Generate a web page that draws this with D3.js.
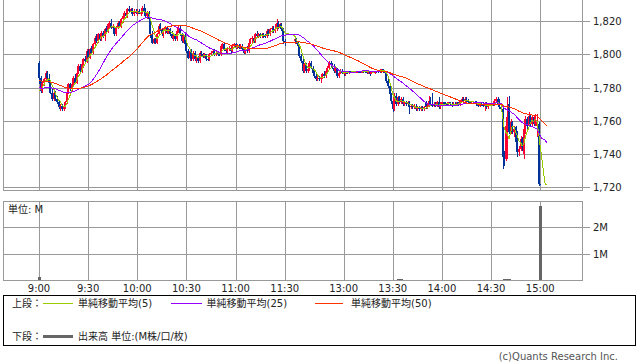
<!DOCTYPE html>
<html>
<head>
<meta charset="utf-8">
<script src="https://cdn.jsdelivr.net/npm/d3@7/dist/d3.min.js"></script>
<style>
body { margin: 0; background: #fff; }
#chart { display: block; font-family: "DejaVu Sans", "Noto Sans CJK JP", sans-serif; font-size: 10px; }
</style>
</head>
<body>
<svg id="chart" width="638" height="362"></svg>
<script>
// previous session closes, only used to seed the moving averages
var prevCloses = [
	1791,1791,1790,1790,1790,1789,1789,1789,1789,1788,
	1788,1788,1788,1788,1788,1788,1788,1788,1788,1788,
	1788,1787,1787,1787,1787,1786,1785,1784,1783,1782,
	1782,1781,1781,1780,1780,1780,1779,1779,1779,1778,
	1778,1778,1777,1778,1778,1777,1776,1777,1776
];

// 1-minute bars: morning 9:00-11:30 (151 bars), afternoon 12:30-15:04 (155 bars)
var opens = [
	1795,1786,1778,1783,1785,1789,1786,1783,1777,1773, 1777,1773,1771,1768,1769,1767,1768,1771,1777,1782,
	1779,1782,1786,1783,1789,1793,1790,1794,1797,1796, 1802,1798,1803,1801,1806,1810,1808,1812,1809,1813,
	1811,1815,1814,1818,1819,1816,1817,1812,1816,1819, 1817,1821,1823,1825,1823,1827,1826,1827,1824,1826,
	1825,1826,1824,1825,1828,1826,1823,1825,1821,1812, 1807,1809,1807,1812,1817,1815,1812,1814,1816,1813,
	1815,1812,1810,1811,1809,1814,1816,1812,1808,1811, 1806,1802,1798,1802,1797,1801,1797,1798,1796,1801,
	1800,1799,1800,1797,1797,1800,1801,1802,1800,1801, 1800,1800,1805,1806,1803,1802,1803,1804,1802,1805,
	1806,1804,1805,1804,1805,1803,1801,1803,1802,1807, 1809,1810,1808,1812,1811,1812,1811,1812,1811,1811,
	1814,1812,1815,1816,1814,1815,1819,1816,1818,1815, 1808,
	1808,1809,1807,1805,1799,1796,1790,1794,1790,1791, 1795,1792,1789,1787,1785,1786,1785,1786,1788,1787,
	1790,1792,1795,1794,1792,1790,1792,1787,1789,1790, 1789,1788,1789,1789,1790,1789,1790,1790,1789,1790,
	1790,1789,1790,1790,1790,1789,1790,1788,1790,1789, 1790,1790,1790,1790,1791,1790,1789,1784,1781,1776,
	1772,1767,1775,1770,1774,1771,1773,1770,1771,1770, 1771,1768,1769,1768,1769,1767,1768,1767,1768,1767,
	1771,1768,1769,1772,1770,1769,1770,1769,1771,1768, 1770,1771,1770,1770,1770,1771,1770,1769,1770,1770,
	1771,1770,1772,1773,1772,1773,1772,1771,1771,1772, 1771,1771,1770,1769,1770,1770,1769,1770,1768,1769,
	1770,1770,1770,1772,1773,1772,1768,1767,1738,1737, 1744,1770,1753,1759,1753,1756,1747,1741,1743,1749,
	1740,1754,1761,1757,1763,1758,1762,1758,1757,1758, 1722,1722,1722,1722,1722
];
var highs = [
	1796,1787,1784,1786,1790,1790,1788,1784,1779,1778, 1778,1775,1772,1770,1770,1769,1772,1778,1783,1783,
	1783,1787,1788,1790,1794,1794,1795,1798,1799,1803, 1803,1804,1805,1807,1811,1812,1813,1813,1814,1814,
	1816,1817,1819,1820,1821,1818,1817,1817,1820,1820, 1822,1824,1826,1827,1828,1829,1828,1828,1827,1827,
	1827,1827,1826,1829,1830,1828,1826,1826,1822,1814, 1810,1810,1813,1818,1819,1816,1815,1817,1817,1816,
	1816,1814,1812,1812,1815,1817,1817,1813,1812,1812, 1807,1803,1803,1803,1802,1802,1799,1799,1802,1802,
	1801,1801,1800,1798,1801,1802,1803,1803,1802,1802, 1801,1806,1807,1807,1804,1804,1805,1805,1806,1807,
	1807,1806,1806,1806,1806,1804,1804,1805,1808,1810, 1811,1811,1813,1814,1813,1813,1813,1813,1812,1815,
	1815,1816,1817,1817,1818,1821,1820,1819,1819,1816, 1809,
	1810,1810,1808,1806,1800,1797,1795,1795,1793,1796, 1796,1793,1791,1789,1787,1787,1787,1789,1790,1791,
	1793,1796,1796,1795,1794,1793,1792,1790,1791,1791, 1790,1790,1790,1790,1790,1790,1790,1790,1790,1790,
	1790,1790,1790,1790,1790,1790,1790,1790,1790,1790, 1790,1790,1791,1791,1791,1790,1789,1785,1782,1777,
	1775,1777,1777,1775,1775,1774,1774,1772,1772,1772, 1772,1770,1770,1770,1770,1769,1769,1769,1769,1769,
	1772,1770,1775,1774,1777,1771,1771,1772,1774,1771, 1771,1771,1771,1771,1771,1771,1771,1771,1771,1771,
	1771,1772,1774,1774,1774,1774,1773,1772,1772,1772, 1772,1772,1771,1771,1771,1771,1771,1771,1770,1770,
	1770,1771,1773,1774,1774,1773,1769,1768,1742,1759, 1774,1775,1761,1760,1757,1757,1754,1745,1751,1750,
	1757,1763,1762,1765,1764,1763,1763,1764,1764,1759, 1722,1722,1722,1722,1722
];
var lows = [
	1782,1777,1777,1781,1784,1785,1782,1776,1772,1772, 1772,1770,1767,1766,1766,1766,1767,1770,1776,1778,
	1778,1781,1782,1782,1788,1789,1789,1792,1795,1795, 1797,1797,1800,1800,1805,1807,1807,1808,1808,1810,
	1808,1812,1813,1816,1815,1814,1811,1811,1815,1816, 1816,1819,1821,1822,1822,1825,1824,1823,1823,1824,
	1823,1824,1823,1824,1825,1822,1821,1820,1810,1806, 1806,1806,1806,1811,1814,1811,1810,1812,1812,1812,
	1811,1809,1808,1808,1808,1813,1811,1807,1807,1805, 1801,1797,1796,1796,1796,1796,1795,1795,1795,1799,
	1798,1798,1796,1796,1796,1799,1800,1799,1799,1799, 1799,1799,1803,1802,1801,1801,1802,1801,1801,1804,
	1803,1803,1803,1803,1802,1800,1800,1801,1801,1806, 1806,1807,1807,1810,1810,1810,1810,1810,1810,1810,
	1811,1811,1813,1813,1813,1814,1815,1815,1814,1806, 1805,
	1806,1806,1804,1798,1795,1789,1789,1789,1789,1790, 1791,1788,1786,1784,1784,1784,1783,1785,1786,1786,
	1789,1791,1793,1791,1789,1789,1786,1786,1788,1788, 1787,1787,1788,1788,1789,1789,1789,1789,1789,1789,
	1789,1789,1789,1789,1788,1788,1787,1788,1789,1788, 1789,1789,1789,1789,1789,1788,1783,1780,1775,1770,
	1765,1766,1769,1769,1770,1770,1769,1769,1769,1769, 1764,1767,1767,1767,1766,1766,1766,1766,1766,1766,
	1767,1767,1768,1769,1768,1768,1768,1768,1767,1767, 1769,1769,1769,1769,1769,1769,1768,1769,1769,1769,
	1769,1769,1771,1771,1771,1771,1770,1770,1770,1770, 1770,1769,1768,1768,1769,1768,1766,1767,1767,1769,
	1769,1769,1769,1771,1769,1767,1766,1731,1733,1736, 1737,1752,1752,1752,1750,1746,1738,1739,1742,1742,
	1737,1752,1755,1756,1757,1757,1757,1757,1750,1721, 1722,1722,1722,1722,1722
];
var closes = [
	1786,1778,1783,1785,1789,1786,1783,1777,1773,1777, 1773,1771,1768,1769,1767,1768,1771,1777,1782,1779,
	1782,1786,1783,1789,1793,1790,1794,1797,1796,1802, 1798,1803,1801,1806,1810,1808,1812,1809,1813,1811,
	1815,1814,1818,1819,1816,1817,1812,1816,1819,1817, 1821,1823,1825,1823,1827,1826,1827,1824,1826,1825,
	1826,1824,1825,1828,1826,1823,1825,1821,1812,1807, 1809,1807,1812,1817,1815,1812,1814,1816,1813,1815,
	1812,1810,1811,1809,1814,1816,1812,1808,1811,1806, 1802,1798,1802,1797,1801,1797,1798,1796,1801,1800,
	1799,1800,1797,1797,1800,1801,1802,1800,1801,1800, 1800,1805,1806,1803,1802,1803,1804,1802,1805,1806,
	1804,1805,1804,1805,1803,1801,1803,1802,1807,1809, 1810,1808,1812,1811,1812,1811,1812,1811,1811,1814,
	1812,1815,1816,1814,1815,1819,1816,1818,1815,1808, 1807,
	1809,1807,1805,1799,1796,1790,1794,1790,1791,1795, 1792,1789,1787,1785,1786,1785,1786,1788,1787,1790,
	1792,1795,1794,1792,1790,1792,1787,1789,1790,1789, 1788,1789,1789,1790,1789,1790,1790,1789,1790,1790,
	1789,1790,1790,1790,1789,1790,1788,1790,1789,1790, 1790,1790,1790,1791,1790,1789,1784,1781,1776,1772,
	1767,1775,1770,1774,1771,1773,1770,1771,1770,1771, 1768,1769,1768,1769,1767,1768,1767,1768,1767,1768,
	1768,1769,1772,1770,1769,1770,1769,1771,1768,1770, 1771,1770,1770,1770,1771,1770,1769,1770,1770,1771,
	1770,1772,1773,1772,1773,1772,1771,1771,1772,1771, 1771,1770,1769,1770,1770,1769,1770,1768,1769,1770,
	1770,1770,1772,1773,1770,1768,1767,1738,1736,1757, 1762,1753,1759,1753,1755,1747,1741,1743,1749,1744,
	1755,1761,1757,1763,1758,1762,1758,1763,1759,1722, 1722,1722,1722,1722,1722
];

var timeLabels = ['9:00', '9:30', '10:00', '10:30', '11:00', '11:30', '13:00', '13:30', '14:00', '14:30', '15:00'];
var priceTicks = [1720, 1740, 1760, 1780, 1800, 1820];
var volumeTicks = [1, 2];
var volumeTimes = ['9:00', '13:33', '13:34', '13:35', '14:38', '14:39', '14:40', '14:41', '15:00'];
var volumeValues = [0.1, 0.04, 0.04, 0.04, 0.04, 0.04, 0.04, 0.04, 2.8];
var maPeriods = [5, 25, 50];
var maColors = ['#99cc00', '#9900ff', '#ff3300'];
var maNames = ['単純移動平均(5)', '単純移動平均(25)', '単純移動平均(50)'];

var upColor = '#ff0033', downColor = '#003399', gridColor = '#999', textColor = '#222';

function toMinutes(s) { var p = s.split(':'); return +p[0] * 60 + +p[1]; }
function barTime(i) { return i < 151 ? 540 + i : 750 + (i - 151); }
function snap(v) { return Math.round(v) + 0.5; }

var svg = d3.select('#chart');

// lunch break squeezed into a small gap
var x = d3.scaleLinear().domain([540, 690, 750, 900]).range([39, 284.7, 294.5, 540.2]);
var y = d3.scaleLinear().domain([1718.4, 1832.6]).range([190, 0]);
var yVol = d3.scaleLinear().domain([0, 2.98]).range([280, 201.5]);

var bars = closes.map(function(c, i) {
	return { t: barTime(i), o: opens[i], h: highs[i], l: lows[i], c: c };
});

// grid + frames
var grid = svg.append('g')
	.attr('stroke', gridColor)
	.attr('fill', 'none')
	.attr('shape-rendering', 'crispEdges');

grid.selectAll('.vgrid-top')
	.data(timeLabels)
	.enter()
	.append('line')
	.attr('x1', function(d) { return snap(x(toMinutes(d))) })
	.attr('x2', function(d) { return snap(x(toMinutes(d))) })
	.attr('y1', 0)
	.attr('y2', 190);

grid.selectAll('.vgrid-vol')
	.data(timeLabels)
	.enter()
	.append('line')
	.attr('x1', function(d) { return snap(x(toMinutes(d))) })
	.attr('x2', function(d) { return snap(x(toMinutes(d))) })
	.attr('y1', 202)
	.attr('y2', 280);

grid.selectAll('.hgrid-top')
	.data(priceTicks)
	.enter()
	.append('line')
	.attr('x1', 3)
	.attr('x2', 590)
	.attr('y1', function(d) { return snap(y(d)) })
	.attr('y2', function(d) { return snap(y(d)) });

grid.selectAll('.hgrid-vol')
	.data(volumeTicks)
	.enter()
	.append('line')
	.attr('x1', 3)
	.attr('x2', 590)
	.attr('y1', function(d) { return snap(yVol(d)) })
	.attr('y2', function(d) { return snap(yVol(d)) });

grid.append('path').attr('d', 'M3.5,0V190.5H582.5V0');
grid.append('rect').attr('x', 3.5).attr('y', 201.5).attr('width', 579).attr('height', 79);

// labels
var labels = svg.append('g').attr('fill', textColor);

labels.selectAll('.price-label')
	.data(priceTicks)
	.enter()
	.append('text')
	.attr('x', 593)
	.attr('y', function(d) { return Math.round(y(d)) + 4 })
	.text(d3.format(','));

labels.selectAll('.vol-label')
	.data(volumeTicks)
	.enter()
	.append('text')
	.attr('x', 593)
	.attr('y', function(d) { return Math.round(yVol(d)) + 4 })
	.text(function(d) { return d + 'M' });

labels.selectAll('.time-label')
	.data(timeLabels)
	.enter()
	.append('text')
	.attr('x', function(d) { return x(toMinutes(d)) })
	.attr('y', 292)
	.attr('text-anchor', 'middle')
	.text(function(d) { return d });

labels.append('text').attr('x', 8).attr('y', 213).text('単位: M');

// candles
var candles = svg.append('g')
	.attr('shape-rendering', 'crispEdges')
	.selectAll('.candle')
	.data(bars.filter(function(d) { return d.t <= 900; }))
	.enter()
	.append('g')
	.attr('fill', function(d) { return d.c > d.o ? upColor : downColor });

candles.append('rect')
	.attr('x', function(d) { return Math.round(x(d.t)) })
	.attr('width', 1)
	.attr('y', function(d) { return Math.round(y(d.h)) })
	.attr('height', function(d) { return Math.max(1, Math.round(y(d.l)) - Math.round(y(d.h))) });

candles.append('rect')
	.attr('x', function(d) { return Math.round(x(d.t)) - 1 })
	.attr('width', 2)
	.attr('y', function(d) { return Math.round(y(Math.max(d.o, d.c))) })
	.attr('height', function(d) { return Math.max(1, Math.round(y(Math.min(d.o, d.c))) - Math.round(y(Math.max(d.o, d.c)))) });

// volume
svg.append('g')
	.attr('fill', '#666')
	.attr('shape-rendering', 'crispEdges')
	.selectAll('rect')
	.data(volumeTimes)
	.enter()
	.append('rect')
	.attr('x', function(d) { return Math.round(x(toMinutes(d))) - 1 })
	.attr('width', 3)
	.attr('y', function(d, i) { return Math.round(yVol(volumeValues[i])) })
	.attr('height', function(d, i) { return 280 - Math.round(yVol(volumeValues[i])) });

// simple moving averages
var allCloses = prevCloses.concat(closes);
var offset = prevCloses.length;

var line = d3.line()
	.x(function(d) { return x(d.t) })
	.y(function(d) { return y(d.v) });

svg.append('g')
	.attr('fill', 'none')
	.attr('stroke-width', 1)
	.attr('shape-rendering', 'crispEdges')
	.selectAll('path')
	.data(maPeriods)
	.enter()
	.append('path')
	.attr('stroke', function(d, i) { return maColors[i] })
	.attr('d', function(n) {
		return line(closes.map(function(c, i) {
			var k = i + offset;
			return { t: barTime(i), v: d3.mean(allCloses.slice(k - n + 1, k + 1)) };
		}));
	});

// legend
var legend = svg.append('g');

legend.append('rect')
	.attr('x', 3.5).attr('y', 295.5)
	.attr('width', 632).attr('height', 50)
	.attr('fill', 'none')
	.attr('stroke', '#000')
	.attr('shape-rendering', 'crispEdges');

legend.append('text').attr('x', 12).attr('y', 307).attr('fill', textColor).text('上段：');
legend.append('text').attr('x', 12).attr('y', 340).attr('fill', textColor).text('下段：');

var legendX = [43, 171, 315];
var legendW = [30, 31, 28];
var legendTextX = [78, 206.5, 351];

legend.selectAll('.ma-key')
	.data(maPeriods)
	.enter()
	.append('line')
	.attr('x1', function(d, i) { return legendX[i] })
	.attr('x2', function(d, i) { return legendX[i] + legendW[i] })
	.attr('y1', 303.5)
	.attr('y2', 303.5)
	.attr('stroke', function(d, i) { return maColors[i] })
	.attr('shape-rendering', 'crispEdges');

legend.selectAll('.ma-name')
	.data(maNames)
	.enter()
	.append('text')
	.attr('x', function(d, i) { return legendTextX[i] })
	.attr('y', 307)
	.attr('fill', textColor)
	.text(function(d) { return d });

legend.append('rect')
	.attr('x', 43).attr('y', 335)
	.attr('width', 30).attr('height', 3)
	.attr('fill', '#666');

legend.append('text').attr('x', 78).attr('y', 340).attr('fill', textColor).text('出来高 単位:(M株/口/枚)');

svg.append('text')
	.attr('x', 618)
	.attr('y', 360)
	.attr('text-anchor', 'end')
	.attr('fill', '#555')
	.text('(c)Quants Research Inc.');
</script>
</body>
</html>
